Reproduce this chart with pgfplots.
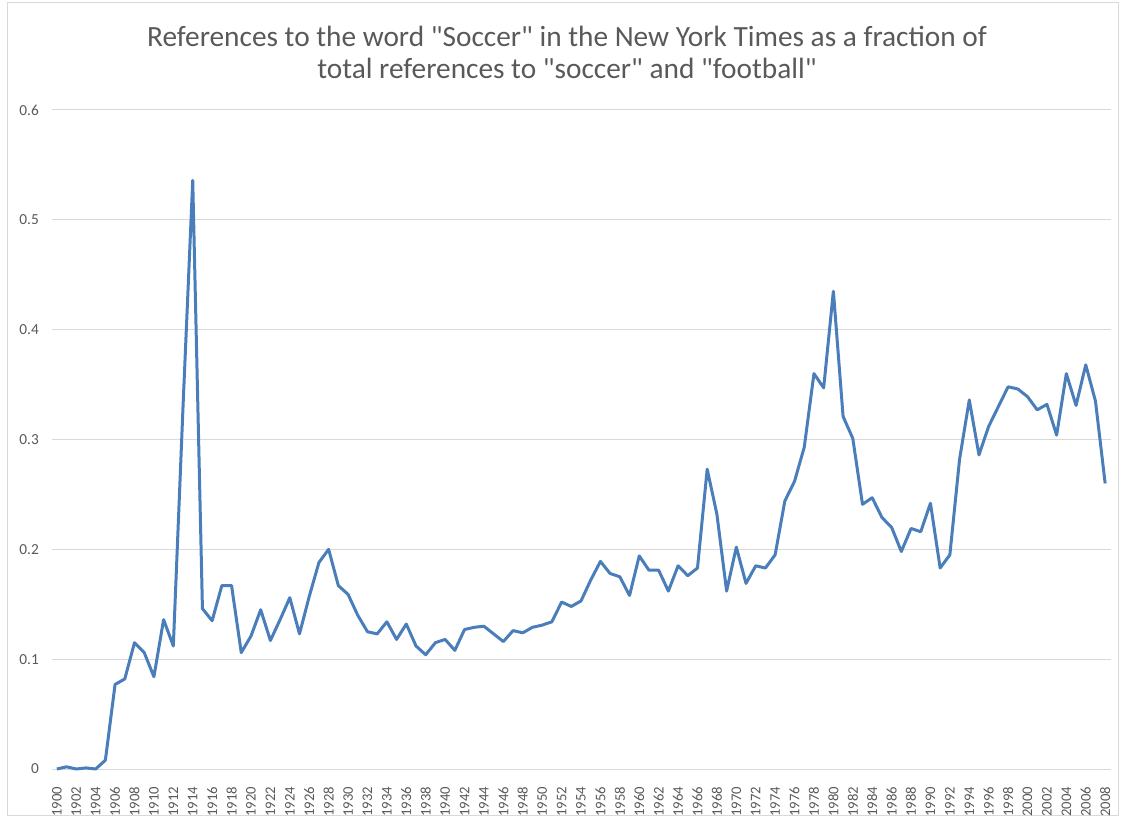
\documentclass[border=0pt]{standalone}
\usepackage{fontspec}
\setmainfont{Carlito}
\usepackage{pgfplots}
\usepackage{pgfplotstable}
\pgfplotsset{compat=1.18}
\definecolor{linebl}{HTML}{4A7EBB}
\definecolor{txtgray}{HTML}{595959}
\definecolor{gridgray}{HTML}{D9D9D9}
\pgfplotstableread{
year val
1900 0
1901 0.002
1902 0.000
1903 0.001
1904 0.000
1905 0.008
1906 0.077
1907 0.082
1908 0.115
1909 0.106
1910 0.084
1911 0.136
1912 0.112
1913 0.330
1914 0.536
1915 0.146
1916 0.135
1917 0.167
1918 0.167
1919 0.106
1920 0.121
1921 0.145
1922 0.117
1923 0.136
1924 0.156
1925 0.123
1926 0.157
1927 0.188
1928 0.200
1929 0.167
1930 0.159
1931 0.140
1932 0.125
1933 0.123
1934 0.134
1935 0.118
1936 0.132
1937 0.112
1938 0.104
1939 0.115
1940 0.118
1941 0.108
1942 0.127
1943 0.129
1944 0.130
1945 0.123
1946 0.116
1947 0.126
1948 0.124
1949 0.129
1950 0.131
1951 0.134
1952 0.152
1953 0.148
1954 0.153
1955 0.172
1956 0.189
1957 0.178
1958 0.175
1959 0.158
1960 0.194
1961 0.181
1962 0.181
1963 0.162
1964 0.185
1965 0.176
1966 0.183
1967 0.273
1968 0.232
1969 0.162
1970 0.202
1971 0.169
1972 0.185
1973 0.183
1974 0.195
1975 0.244
1976 0.262
1977 0.293
1978 0.360
1979 0.347
1980 0.435
1981 0.321
1982 0.301
1983 0.241
1984 0.247
1985 0.229
1986 0.220
1987 0.198
1988 0.219
1989 0.216
1990 0.242
1991 0.183
1992 0.195
1993 0.282
1994 0.336
1995 0.286
1996 0.312
1997 0.330
1998 0.348
1999 0.346
2000 0.339
2001 0.327
2002 0.332
2003 0.304
2004 0.360
2005 0.331
2006 0.368
2007 0.335
2008 0.260
}\datatable
\begin{document}
\begin{tikzpicture}
\path[use as bounding box] (0pt,0pt) rectangle (840.75pt,613.5pt);
\draw[gridgray,line width=0.75pt] (5.25pt,2.25pt) rectangle (838.5pt,611.25pt);
\node[align=center,text=txtgray,font=\fontsize{22}{24}\selectfont] at (425.25pt,574pt) {References to the word \textquotedbl Soccer\textquotedbl{} in the New York Times as a fraction of\\total references to \textquotedbl soccer\textquotedbl{} and \textquotedbl football\textquotedbl};
\begin{axis}[
  at={(38.625pt,36.75pt)}, anchor=south west,
  scale only axis,
  width=794.25pt, height=494.25pt,
  xmin=1899.45, xmax=2008.55,
  ymin=0, ymax=0.6,
  xtick={1900,1902,...,2008},
  ytick={0,0.1,...,0.6},
  axis line style={draw=none},
  major tick length=0pt,
  ymajorgrids,
  grid style={gridgray, line width=0.75pt},
  tick label style={text=txtgray},
  /pgf/number format/assume math mode=true,
  /pgf/number format/1000 sep={},
  yticklabel style={font=\fontsize{11.5}{12}\selectfont, /pgf/number format/fixed, /pgf/number format/precision=1, xshift=-6pt},
  xticklabel style={font=\fontsize{11}{12}\selectfont, rotate=90, anchor=east, xshift=-10pt},
  clip=false,
]
\addplot[linebl, line width=2.25pt, line join=round, no marks] table[x=year,y=val] {\datatable};
\end{axis}
\end{tikzpicture}
\end{document}
